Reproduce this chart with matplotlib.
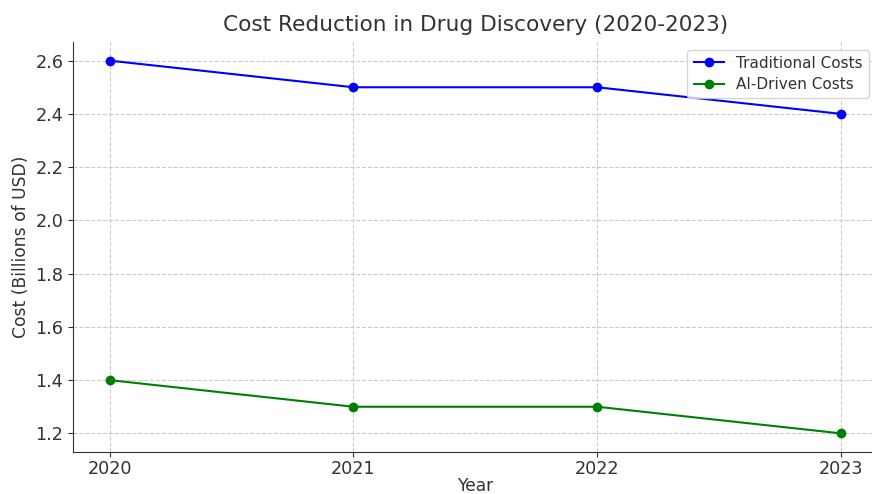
import matplotlib
matplotlib.use("Agg")
import matplotlib.pyplot as plt

years = [2020, 2021, 2022, 2023]
traditional = [2.6, 2.5, 2.5, 2.4]
ai_driven = [1.4, 1.3, 1.3, 1.2]

tc = "#333333"
plt.rcParams['font.family'] = ['DejaVu Sans']
fig = plt.figure(figsize=(8.72, 4.94), dpi=100)
ax = fig.add_axes([73/872, 1-452/494, (877.5-73)/872, (452-42)/494])
ax.plot(years, traditional, marker='o', color='blue', label='Traditional Costs', markersize=6, linewidth=1.5)
ax.plot(years, ai_driven, marker='o', color='green', label='AI-Driven Costs', markersize=6, linewidth=1.5)
ax.set_xticks(years)
ax.set_xticklabels([str(y) for y in years])
ax.set_title('Cost Reduction in Drug Discovery (2020-2023)', fontsize=15.6, color=tc, pad=8)
ax.set_xlabel('Year', fontsize=12.3, color=tc, labelpad=-1)
ax.set_ylabel('Cost (Billions of USD)', fontsize=12.3, color=tc)
ax.grid(True, linestyle='--', color='#cccccc', linewidth=0.8)
for s in ['top', 'right']:
    ax.spines[s].set_visible(False)
for s in ['left', 'bottom']:
    ax.spines[s].set_color(tc)
ax.tick_params(colors=tc, labelsize=12.7)
ax.tick_params(axis='x', pad=2.5)
leg = ax.legend(loc='upper right', fontsize=11, bbox_to_anchor=(0.999, 1.0), labelspacing=0.4)
for t in leg.get_texts():
    t.set_color(tc)
fig.savefig('out.png', dpi=100)
